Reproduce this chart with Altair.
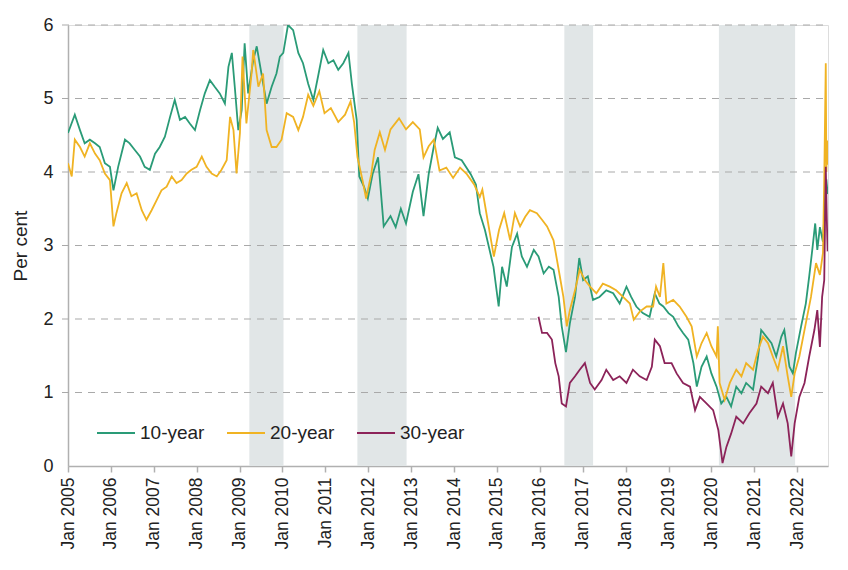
import altair as alt
import pandas as pd

# ---- data (decimal years, per cent) ----
t10 = [2005.00, 2005.16, 2005.28, 2005.39, 2005.51, 2005.63, 2005.74, 2005.86, 2005.98, 2006.06,
       2006.17, 2006.33, 2006.44, 2006.56, 2006.68, 2006.79, 2006.91, 2007.03, 2007.14, 2007.26,
       2007.38, 2007.49, 2007.61, 2007.73, 2007.84, 2007.96, 2008.08, 2008.19, 2008.31, 2008.42,
       2008.54, 2008.66, 2008.74, 2008.82, 2008.89, 2008.97, 2009.05, 2009.12, 2009.20, 2009.32,
       2009.40, 2009.51, 2009.63, 2009.75, 2009.86, 2009.94, 2010.02, 2010.13, 2010.25, 2010.37,
       2010.48, 2010.60, 2010.72, 2010.83, 2010.95, 2011.07, 2011.19, 2011.30, 2011.42, 2011.54,
       2011.62, 2011.73, 2011.79, 2011.90, 2011.99, 2012.10, 2012.23, 2012.36, 2012.52, 2012.64,
       2012.76, 2012.88, 2013.04, 2013.17, 2013.29, 2013.41, 2013.53, 2013.62, 2013.74, 2013.90,
       2014.02, 2014.18, 2014.39, 2014.51, 2014.60, 2014.72, 2014.92, 2015.04, 2015.12, 2015.23,
       2015.35, 2015.47, 2015.58, 2015.70, 2015.86, 2015.97, 2016.09, 2016.21, 2016.32, 2016.44,
       2016.51, 2016.61, 2016.70, 2016.82, 2016.92, 2017.01, 2017.12, 2017.24, 2017.39, 2017.55,
       2017.71, 2017.86, 2018.02, 2018.13, 2018.25, 2018.40, 2018.56, 2018.68, 2018.79, 2018.88,
       2019.00, 2019.11, 2019.23, 2019.34, 2019.46, 2019.58, 2019.66, 2019.77, 2019.89, 2020.00,
       2020.12, 2020.23, 2020.35, 2020.46, 2020.58, 2020.70, 2020.81, 2020.97, 2021.09, 2021.16,
       2021.28, 2021.40, 2021.51, 2021.63, 2021.70, 2021.82, 2021.90, 2021.97, 2022.09, 2022.20,
       2022.28, 2022.36, 2022.42, 2022.47, 2022.53, 2022.60, 2022.65, 2022.68, 2022.71]
v10 = [4.53, 4.78, 4.57, 4.39, 4.44, 4.39, 4.34, 4.12, 4.07, 3.75,
       4.07, 4.44, 4.39, 4.30, 4.21, 4.07, 4.03, 4.25, 4.34, 4.48,
       4.75, 4.98, 4.71, 4.75, 4.66, 4.57, 4.84, 5.07, 5.25, 5.16,
       5.07, 4.93, 5.43, 5.62, 5.16, 4.57, 4.84, 5.75, 5.07, 5.52,
       5.71, 5.34, 4.93, 5.16, 5.34, 5.57, 5.62, 6.00, 5.93, 5.62,
       5.48, 5.20, 4.98, 5.30, 5.66, 5.48, 5.52, 5.39, 5.48, 5.62,
       5.20, 4.71, 3.94, 3.80, 3.64, 3.97, 4.20, 3.26, 3.40, 3.25,
       3.50, 3.30, 3.73, 3.97, 3.40, 3.97, 4.35, 4.60, 4.45, 4.54,
       4.20, 4.16, 3.97, 3.83, 3.44, 3.21, 2.71, 2.17, 2.71, 2.44,
       2.98, 3.16, 2.85, 2.71, 2.94, 2.85, 2.62, 2.71, 2.67, 2.30,
       1.90, 1.55, 1.94, 2.30, 2.83, 2.53, 2.58, 2.26, 2.30, 2.39,
       2.35, 2.21, 2.44, 2.30, 2.17, 2.08, 2.03, 2.35, 2.21, 2.17,
       2.08, 2.03, 1.90, 1.81, 1.72, 1.40, 1.08, 1.35, 1.49, 1.26,
       1.08, 0.85, 0.94, 0.81, 1.08, 0.99, 1.13, 1.04, 1.49, 1.85,
       1.76, 1.67, 1.49, 1.76, 1.85, 1.35, 1.26, 1.54, 1.90, 2.21,
       2.58, 2.98, 3.30, 2.94, 3.25, 3.05, 3.60, 3.90, 3.70]

t20 = [2005.00, 2005.09, 2005.16, 2005.28, 2005.39, 2005.51, 2005.63, 2005.74, 2005.86, 2005.98,
       2006.06, 2006.13, 2006.25, 2006.37, 2006.48, 2006.60, 2006.72, 2006.83, 2006.95, 2007.07,
       2007.18, 2007.30, 2007.42, 2007.53, 2007.65, 2007.77, 2007.88, 2008.00, 2008.12, 2008.23,
       2008.35, 2008.47, 2008.58, 2008.70, 2008.78, 2008.86, 2008.93, 2009.01, 2009.07, 2009.16,
       2009.28, 2009.32, 2009.44, 2009.55, 2009.63, 2009.75, 2009.86, 2009.98, 2010.10, 2010.25,
       2010.37, 2010.48, 2010.60, 2010.72, 2010.86, 2010.98, 2011.13, 2011.30, 2011.46, 2011.59,
       2011.67, 2011.75, 2011.87, 2011.95, 2012.07, 2012.15, 2012.27, 2012.39, 2012.52, 2012.72,
       2012.88, 2013.04, 2013.20, 2013.29, 2013.41, 2013.53, 2013.66, 2013.82, 2013.98, 2014.14,
       2014.30, 2014.47, 2014.60, 2014.66, 2014.78, 2014.93, 2015.05, 2015.17, 2015.31, 2015.42,
       2015.54, 2015.66, 2015.77, 2015.93, 2016.05, 2016.17, 2016.32, 2016.44, 2016.55, 2016.63,
       2016.70, 2016.82, 2016.93, 2017.05, 2017.17, 2017.32, 2017.47, 2017.63, 2017.78, 2017.94,
       2018.10, 2018.19, 2018.33, 2018.49, 2018.64, 2018.71, 2018.80, 2018.88, 2018.95, 2019.11,
       2019.26, 2019.42, 2019.54, 2019.66, 2019.77, 2019.89, 2020.00, 2020.12, 2020.15, 2020.19,
       2020.31, 2020.43, 2020.58, 2020.70, 2020.81, 2020.97, 2021.09, 2021.20, 2021.32, 2021.43,
       2021.55, 2021.67, 2021.78, 2021.86, 2021.94, 2022.05, 2022.20, 2022.32, 2022.44, 2022.53,
       2022.60, 2022.63, 2022.665, 2022.68, 2022.70, 2022.71]
v20 = [4.12, 3.94, 4.44, 4.34, 4.21, 4.39, 4.25, 4.16, 3.98, 3.89,
       3.26, 3.44, 3.71, 3.85, 3.67, 3.71, 3.48, 3.35, 3.48, 3.62,
       3.75, 3.80, 3.94, 3.85, 3.89, 3.98, 4.03, 4.07, 4.21, 4.07,
       3.98, 3.94, 4.03, 4.16, 4.75, 4.57, 3.98, 4.53, 5.57, 4.66,
       5.34, 5.66, 5.16, 5.34, 4.57, 4.34, 4.34, 4.44, 4.80, 4.75,
       4.57, 4.75, 5.05, 4.90, 5.10, 4.80, 4.87, 4.68, 4.78, 4.96,
       4.68, 4.20, 3.88, 3.64, 3.97, 4.30, 4.54, 4.30, 4.58, 4.73,
       4.58, 4.68, 4.58, 4.20, 4.35, 4.44, 4.02, 4.06, 3.92, 4.06,
       3.97, 3.83, 3.66, 3.76, 3.35, 2.85, 3.21, 3.44, 3.07, 3.44,
       3.26, 3.39, 3.48, 3.44, 3.35, 3.26, 3.07, 2.67, 2.30, 1.90,
       2.12, 2.39, 2.67, 2.53, 2.44, 2.35, 2.48, 2.44, 2.39, 2.30,
       2.21, 1.99, 2.10, 2.17, 2.17, 2.44, 2.30, 2.76, 2.21, 2.26,
       2.17, 2.03, 1.90, 1.49, 1.67, 1.81, 1.63, 1.49, 1.90, 1.13,
       0.90, 1.13, 1.31, 1.22, 1.40, 1.31, 1.58, 1.76, 1.67, 1.49,
       1.31, 1.63, 1.22, 0.94, 1.26, 1.49, 1.94, 2.30, 2.76, 2.60,
       2.90, 3.90, 5.48, 4.00, 4.43, 4.10]

t30 = [2015.97, 2016.05, 2016.17, 2016.28, 2016.36, 2016.44, 2016.51, 2016.61, 2016.70, 2016.82,
       2016.93, 2017.05, 2017.17, 2017.28, 2017.44, 2017.55, 2017.71, 2017.86, 2018.02, 2018.17,
       2018.33, 2018.49, 2018.61, 2018.68, 2018.80, 2018.91, 2019.07, 2019.19, 2019.34, 2019.50,
       2019.62, 2019.73, 2019.89, 2020.04, 2020.16, 2020.26, 2020.35, 2020.46, 2020.58, 2020.74,
       2020.89, 2021.05, 2021.16, 2021.32, 2021.43, 2021.55, 2021.67, 2021.78, 2021.86, 2021.94,
       2022.05, 2022.17, 2022.28, 2022.40, 2022.47, 2022.53, 2022.58, 2022.63, 2022.665, 2022.69,
       2022.71]
v30 = [2.03, 1.81, 1.81, 1.72, 1.40, 1.22, 0.85, 0.81, 1.13, 1.22,
       1.31, 1.40, 1.13, 1.04, 1.17, 1.31, 1.17, 1.22, 1.13, 1.31,
       1.22, 1.17, 1.35, 1.72, 1.63, 1.40, 1.40, 1.26, 1.13, 1.08,
       0.76, 0.94, 0.85, 0.76, 0.49, 0.04, 0.26, 0.44, 0.67, 0.58,
       0.72, 0.85, 1.08, 0.99, 1.13, 0.67, 0.85, 0.58, 0.13, 0.58,
       0.94, 1.13, 1.49, 1.85, 2.12, 1.62, 2.30, 2.53, 4.07, 3.35,
       2.92]

series_names = ["10-year", "20-year", "30-year"]
series_colors = ["#2a9b77", "#f0b323", "#8c2359"]

shade_start = ["2009-03-25", "2011-10-01", "2016-07-28", "2020-03-05"]
shade_end = ["2010-01-10", "2012-11-23", "2017-03-30", "2021-12-14"]

y_ticks = [0, 1, 2, 3, 4, 5, 6]
grid_vals = [1, 2, 3, 4, 5, 6]
x_tick_years = list(range(2005, 2023))


def to_date(t):
    return (pd.Timestamp("2005-01-01") + pd.to_timedelta((t - 2005) * 365.25, unit="D")).strftime("%Y-%m-%d")


rows = []
for name, ts, vs in zip(series_names, [t10, t20, t30], [v10, v20, v30]):
    for t, v in zip(ts, vs):
        rows.append({"date": to_date(t), "value": v, "series": name})
df = pd.DataFrame(rows)

shade_df = pd.DataFrame({"start": shade_start, "end": shade_end})
grid_df = pd.DataFrame({"y": grid_vals})

W, H = 760, 441
x_domain = [alt.DateTime(year=2005, month=1, date=1), alt.DateTime(year=2022, month=9, date=20)]
x_scale = alt.Scale(domain=x_domain)
y_scale = alt.Scale(domain=[0, 6], nice=False)

shade = alt.Chart(shade_df).mark_rect(color="#e1e6e7").encode(
    x=alt.X("start:T", scale=x_scale),
    x2="end:T",
    y=alt.value(0),
    y2=alt.value(H),
)

grid = alt.Chart(grid_df).mark_rule(color="#a9a9a9", strokeWidth=1.2, strokeDash=[7, 6]).encode(
    y=alt.Y("y:Q", scale=y_scale),
    x=alt.value(-6),
    x2=alt.value(W),
)

lines = alt.Chart(df).mark_line(strokeWidth=1.8, clip=True).encode(
    x=alt.X("date:T", scale=x_scale,
            axis=alt.Axis(values=[alt.DateTime(year=y, month=1, date=1) for y in x_tick_years],
                          format="%b %Y", labelAngle=270, title=None, grid=False,
                          domainColor="#b0b0b0", domainWidth=1.5, tickColor="#b0b0b0",
                          tickWidth=1.5, tickSize=6, labelPadding=5, labelFontSize=17.5,
                          labelColor="#222222", labelFont="Liberation Sans")),
    y=alt.Y("value:Q", scale=y_scale,
            axis=alt.Axis(values=y_ticks, format="d", title="Per cent", grid=False, tickSize=0,
                          labelPadding=15, labelFontSize=18, labelColor="#222222",
                          labelFont="Liberation Sans", titleFont="Liberation Sans",
                          titleFontSize=19, titleFontWeight="normal", titleColor="#222222",
                          titlePadding=12, domainColor="#b0b0b0", domainWidth=1.5)),
    color=alt.Color("series:N",
                    scale=alt.Scale(domain=series_names, range=series_colors),
                    legend=alt.Legend(title=None, orient="none", legendX=28, legendY=388,
                                      direction="horizontal", symbolType="stroke",
                                      symbolStrokeWidth=2, symbolSize=1444, labelFontSize=19,
                                      labelFont="Liberation Sans", labelColor="#222222",
                                      labelOffset=4, columnPadding=18, padding=0)),
    detail="series:N",
)

chart = alt.layer(shade, grid, lines).properties(
    width=W, height=H,
    autosize=alt.AutoSizeParams(type="none"),
    padding={"left": 60, "top": 17, "right": 12, "bottom": 96},
).configure_view(stroke=None).configure(background="white")

chart.save("out.html", embed_options={"renderer": "svg", "actions": False})
